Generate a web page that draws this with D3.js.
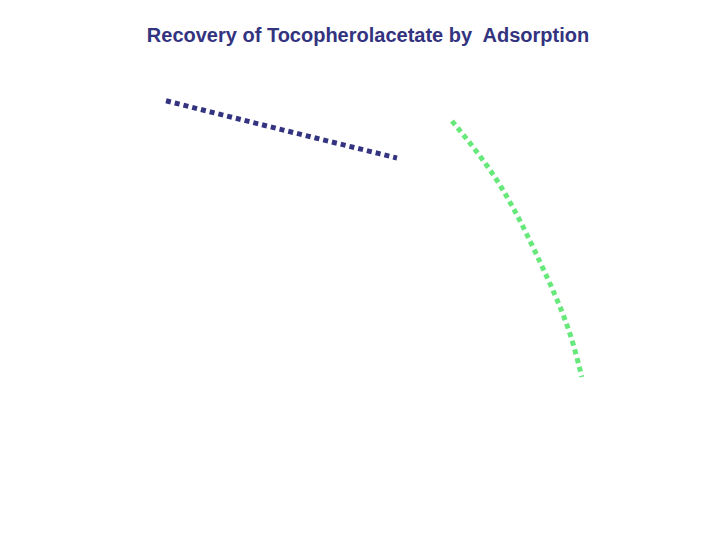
<!DOCTYPE html>
<html><head><meta charset="utf-8">
<script src="https://cdn.jsdelivr.net/npm/d3@7"></script>
<style>body{margin:0;background:#fff}</style>
</head><body>
<svg id="chart" width="720" height="540"></svg>
<script>
const title = "Recovery of Tocopherolacetate by\u00a0 Adsorption";
// series 1 (navy)
const s1x = [12, 33, 54];
const s1y = [94.8, 87.6, 80.5];
// series 2 (green)
const s2x = [64.0, 72.7, 80.0, 84.9, 87.6];
const s2y = [89.75, 73.75, 54.5, 38.75, 25.75];

const svg = d3.select("#chart");
const x = d3.scaleLinear().domain([0, 100]).range([100, 650]);
const y = d3.scaleLinear().domain([0, 100]).range([480, 80]);

svg.append("text").attr("x", 368).attr("y", 42).attr("text-anchor", "middle")
  .attr("font-family", "Liberation Sans, Arial, sans-serif").attr("font-weight", "bold")
  .attr("font-size", 20).attr("fill", "#333380").text(title);

const line = d3.line().x(d => x(d[0])).y(d => y(d[1])).curve(d3.curveNatural);

const series = [
  {pts: d3.zip(s1x, s1y), color: "#333380"},
  {pts: d3.zip(s2x, s2y), color: "#66e87a"}
];
svg.selectAll("path.s").data(series).join("path").attr("class", "s")
  .attr("d", d => line(d.pts)).attr("fill", "none")
  .attr("stroke", d => d.color).attr("stroke-width", 5)
  .attr("stroke-dasharray", "5,4");
</script>
</body></html>
